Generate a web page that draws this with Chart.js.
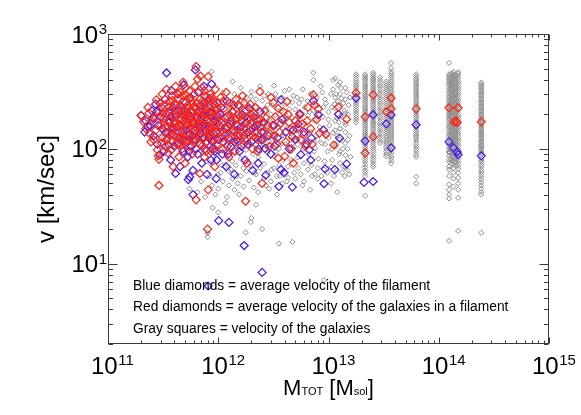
<!DOCTYPE html>
<html><head><meta charset="utf-8">
<script src="https://cdn.jsdelivr.net/npm/chart.js@4/dist/chart.umd.min.js"></script>
<style>html,body{margin:0;padding:0;background:#fff}#wrap{width:581px;height:415px;position:relative}</style>
</head><body><div id="wrap"><canvas id="c"></canvas></div>
<script>
// ---- axis definitions ----
const xMajorExponents = [11, 12, 13, 14, 15];
const yMajorExponents = [1, 2, 3];
const xRange = [1e11, 1e15];
const yRange = [2, 1000];
const yTitle = 'v [km/sec]';
const xTitleParts = [['M', 0], ['TOT', 1], [' [M', 0], ['sol', 1], [']', 0]];
const noteLines = [
  'Blue diamonds = average velocity of the filament',
  'Red diamonds = average velocity of the galaxies in a filament',
  'Gray squares = velocity of the galaxies'
];

// ---- data: [total mass (M_sol), velocity (km/s)] ----
const redDiamonds = [
[2.0e11,195],[2.2e11,150],[2.3e11,230],[2.4e11,135],[2.5e11,175],[2.6e11,120],[2.75e11,267],[2.8e11,98],[2.85e11,87],[2.9e11,48],[2.9e11,81],[2.9e11,210],[3.0e11,160],
[3.1e11,300],[3.1e11,125],[3.2e11,185],[3.2e11,240],[3.3e11,105],[3.3e11,155],[3.4e11,330],[3.4e11,200],[3.5e11,140],[3.5e11,92],[3.6e11,260],[3.6e11,175],[3.7e11,118],[3.7e11,215],[3.8e11,150],[3.8e11,290],[3.9e11,70],[3.9e11,190],[4.0e11,130],[4.0e11,245],
[4.1e11,350],[4.1e11,165],[4.2e11,110],[4.2e11,220],[4.3e11,275],[4.3e11,140],[4.4e11,185],[4.4e11,85],[4.5e11,310],[4.5e11,125],[4.6e11,235],[4.6e11,160],[4.7e11,200],[4.7e11,100],[4.8e11,380],[4.8e11,145],[4.9e11,260],[4.9e11,175],[5.0e11,120],[5.0e11,215],[5.0e11,75],
[5.1e11,290],[5.1e11,160],[5.2e11,135],[5.3e11,240],[5.3e11,195],[5.4e11,105],[5.5e11,320],[5.5e11,150],[5.6e11,180],[5.7e11,125],[5.7e11,260],[5.8e11,90],[5.9e11,210],[5.9e11,140],[6.0e11,300],[6.0e11,170],[6.1e11,115],[6.2e11,230],[6.2e11,155],[6.3e11,520],[6.3e11,36],
[6.5e11,404],[6.6e11,190],[6.7e11,130],[6.8e11,61],[6.8e11,270],[6.9e11,431],[6.9e11,160],[7.0e11,220],[7.1e11,105],[7.1e11,340],[7.2e11,145],[7.3e11,250],[7.4e11,180],[7.5e11,85],[7.5e11,125],[7.6e11,290],[7.7e11,200],[7.8e11,155],[7.9e11,115],[8.0e11,20],
[8.1e11,425],[8.1e11,44],[8.2e11,240],[8.3e11,170],[8.4e11,135],[8.5e11,300],[8.6e11,95],[8.7e11,210],[8.8e11,150],[8.9e11,120],[9.0e11,265],[9.2e11,185],[9.3e11,70],[9.4e11,330],[9.5e11,160],[9.7e11,230],[9.8e11,110],[1.0e12,195],
[1.03e12,140],[1.05e12,280],[1.08e12,170],[1.1e12,100],[1.12e12,225],[1.15e12,130],[1.18e12,310],[1.2e12,190],[1.22e12,155],[1.25e12,85],[1.28e12,250],[1.3e12,120],[1.33e12,175],[1.36e12,210],[1.4e12,140],[1.42e12,95],[1.45e12,270],[1.48e12,160],[1.5e12,115],[1.53e12,200],[1.56e12,235],[1.58e12,130],
[1.62e12,175],[1.66e12,290],[1.7e12,110],[1.74e12,150],[1.77e12,35],[1.78e12,215],[1.82e12,75],[1.86e12,185],[1.9e12,130],[1.95e12,245],[2.0e12,165],[2.05e12,100],[2.1e12,205],[2.15e12,140],[2.25e12,180],[2.3e12,120],[2.38e12,315],[2.4e12,155],[2.5e12,50],
[2.6e12,140],[2.7e12,185],[2.9e12,105],[3.15e12,253],[3.1e12,160],[3.2e12,130],[3.5e12,225],[3.5e12,83],[3.7e12,167],[4.0e12,86],[4.2e12,258],[4.3e12,200],[4.5e12,148],[4.7e12,127],[4.8e12,75],[5.0e12,175],
[5.5e12,198],[5.8e12,165],[6.0e12,133],[6.2e12,105],[6.5e12,230],[7.3e12,295],[7.8e12,180],[7.5e12,241],[8.1e12,223],[8.3e12,137],[9.5e12,134],[1.12e13,108],[1.23e13,231],[1.46e13,181],
[2.1e11,172],[2.35e11,205],[2.45e11,115],[2.65e11,185],[2.7e11,145],[2.95e11,250],[3.05e11,112],[3.15e11,205],[3.25e11,168],[3.45e11,122],[3.55e11,232],[3.65e11,145],[3.75e11,98],[3.85e11,265],[3.95e11,168],[4.05e11,200],[4.15e11,128],[4.25e11,305],[4.35e11,160],[4.45e11,235],[4.55e11,108],[4.65e11,180],[4.75e11,290],[4.85e11,130],[4.95e11,195],
[5.05e11,340],[5.15e11,225],[5.25e11,118],[5.35e11,170],[5.45e11,275],[5.6e11,210],[5.75e11,160],[5.85e11,245],[5.95e11,120],[6.05e11,190],[6.15e11,350],[6.25e11,135],[6.4e11,250],[6.55e11,165],[6.7e11,215],[6.85e11,110],[7.0e11,185],[7.15e11,260],[7.3e11,140],[7.45e11,320],[7.6e11,210],[7.75e11,95],[7.9e11,175],
[8.05e11,255],[8.25e11,145],[8.45e11,195],[8.65e11,125],[8.85e11,280],[9.05e11,160],[9.25e11,100],[9.45e11,215],[9.65e11,140],[9.85e11,250],[1.02e12,175],[1.07e12,125],[1.11e12,260],[1.16e12,150],[1.21e12,105],[1.26e12,200],[1.31e12,145],[1.38e12,240],[1.44e12,180],[1.5e12,130],[1.57e12,190],[1.64e12,140],[1.72e12,250],[1.8e12,118],[1.88e12,160],[1.97e12,200],
[2.07e12,130],[2.17e12,230],[2.28e12,95],[2.42e12,180],[2.55e12,120],[2.65e12,215],[2.8e12,160],[2.95e12,135],[3.0e12,280],[3.3e12,190],[3.4e12,110],[3.6e12,140],[3.9e12,210],[4.1e12,115],[4.4e12,170],[4.6e12,100],[5.2e12,150],[5.6e12,120],[6.4e12,175],[6.9e12,150],[7.1e12,110],
[1.78e13,307],[2.15e13,190],[2.15e13,92],[2.54e13,295],[2.54e13,127],[3.34e13,210],[3.7e13,277],[3.7e13,223],[6.24e13,223],[1.24e14,228],[1.5e14,228],[1.38e14,172],[1.43e14,175],[1.47e14,170],[2.43e14,172]
];

const blueDiamonds = [
[2.0e11,195],[2.2e11,175],[2.3e11,156],[2.4e11,158],[2.5e11,214],[2.6e11,130],[2.7e11,245],[2.75e11,211],[2.8e11,110],[2.95e11,89],[3.0e11,190],[3.1e11,150],[3.2e11,95],[3.3e11,270],[3.4e11,458],[3.4e11,120],[3.5e11,210],[3.6e11,170],[3.7e11,80],[3.75e11,321],[3.8e11,135],[3.9e11,230],[4.0e11,105],[4.1e11,61],[4.1e11,190],[4.2e11,155],[4.3e11,300],[4.4e11,125],[4.5e11,70],[4.6e11,215],[4.7e11,140],[4.8e11,95],[4.85e11,360],[4.9e11,175],[5.0e11,250],[5.1e11,115],[5.2e11,160],[5.3e11,85],[5.35e11,54],[5.4e11,200],[5.5e11,57],[5.5e11,135],[5.6e11,280],[5.7e11,105],[5.8e11,170],[5.9e11,40],[5.9e11,65],[6.0e11,230],[6.1e11,145],[6.2e11,487],[6.2e11,120],[6.4e11,190],[6.5e11,90],[6.6e11,310],[6.7e11,160],[6.8e11,110],[6.9e11,240],[7.0e11,135],[7.1e11,75],[7.2e11,195],[7.3e11,125],[7.4e11,350],[7.5e11,165],[7.6e11,100],[7.7e11,220],[7.8e11,145],[7.9e11,60],[8.0e11,180],[8.1e11,6.4],[8.2e11,125],[8.3e11,275],[8.5e11,150],[8.6e11,80],[8.7e11,367],[8.8e11,205],[8.9e11,115],[9.0e11,170],[9.2e11,245],[9.3e11,95],[9.5e11,140],[9.6e11,55],[9.8e11,190],
[1.0e12,120],[1.01e12,23.7],[1.03e12,160],[1.06e12,230],[1.09e12,90],[1.12e12,140],[1.15e12,185],[1.18e12,70],[1.2e12,260],[1.24e12,125],[1.25e12,22.9],[1.27e12,165],[1.3e12,105],[1.34e12,210],[1.37e12,145],[1.4e12,60],[1.44e12,180],[1.48e12,120],[1.52e12,240],[1.56e12,95],[1.6e12,155],[1.65e12,200],[1.7e12,130],[1.72e12,14.4],[1.75e12,80],[1.8e12,170],[1.86e12,110],[1.92e12,225],[1.98e12,145],[2.05e12,65],[2.1e12,190],[2.18e12,125],[2.25e12,160],[2.32e12,100],[2.4e12,210],[2.48e12,140],[2.5e12,8.4],
[2.65e12,101],[2.7e12,59],[3.25e12,106],[3.55e12,47],[3.7e12,66],[3.7e12,267],[3.95e12,62],[4.7e12,46.5],[4.8e12,146],[5.5e12,202],[5.6e12,89],[6.7e12,98],[6.9e12,80],[7.0e12,124],[7.3e12,263],[8.1e12,198],[9.0e12,146],[9.1e12,49.7],[9.3e12,67],[1.14e13,66],[1.23e13,200],[1.26e13,124],[1.46e13,74],
[2.15e11,140],[2.55e11,185],[2.85e11,160],[3.05e11,230],[3.35e11,140],[3.55e11,108],[3.7e11,190],[3.95e11,150],[4.15e11,240],[4.35e11,110],[4.55e11,180],[4.75e11,120],[4.95e11,210],[5.15e11,145],[5.45e11,95],[5.65e11,190],[5.85e11,130],[6.05e11,165],[6.3e11,100],[6.6e11,205],[6.9e11,135],[7.2e11,160],[7.5e11,250],[7.8e11,115],[8.1e11,150],[8.4e11,210],[8.8e11,100],[9.1e11,135],[9.4e11,175],[9.7e11,80],
[1.04e12,200],[1.1e12,115],[1.17e12,150],[1.23e12,90],[1.32e12,175],[1.4e12,115],[1.5e12,160],[1.62e12,105],[1.74e12,190],[1.85e12,140],[2.0e12,115],[2.12e12,155],[2.3e12,75],[2.45e12,120],[2.6e12,170],[2.85e12,130],[3.0e12,90],[3.2e12,160],[3.45e12,125],[3.8e12,180],[4.1e12,140],[4.4e12,100],[5.0e12,120],[5.3e12,165],[6.0e12,140],[6.3e12,110],
[1.78e13,277],[2.15e13,117],[2.1e13,51],[2.54e13,198],[2.54e13,52],[3.34e13,165],[3.7e13,198],[3.7e13,102],[6.24e13,162],[1.24e14,115],[1.36e14,102],[1.47e14,94],[1.5e14,89],[2.43e14,87]
];

// gray galaxies scattered at low/intermediate mass
const grayScattered = [
[8.0e11,17],[8.0e11,18.5],[8.9e11,30.7],[1.0e12,28],[1.17e12,33.7],[1.77e12,18.7],[1.97e12,23],[2.2e12,32.6],[2.5e12,20],[2.0e12,25],[3.55e12,15],[4.7e12,15.5],[9.1e12,7.2],
[7.3e12,460],[7.3e12,398],[1.1e13,398],[1.3e13,338],[8.7e11,470],[1.35e12,385],[2.0e12,315],
[5.5e11,45],[6.5e11,42],[7.0e11,52],[7.6e11,38],[8.3e11,58],[8.8e11,48],[9.4e11,40],[9.9e11,60],[6.0e11,120],[7.0e11,170],[8.0e11,240],[9.0e11,140],[7.5e11,300],[5.0e11,200],[4.0e11,160],[3.0e11,130],[9.5e11,90],[8.4e11,75],
[1.02e12,225],[1.04e12,150],[1.06e12,98],[1.08e12,72],[1.11e12,185],[1.13e12,120],[1.16e12,260],[1.19e12,88],[1.21e12,140],[1.24e12,64],[1.26e12,205],[1.29e12,110],[1.31e12,165],[1.34e12,78],[1.36e12,240],[1.39e12,128],[1.41e12,95],[1.43e12,190],[1.46e12,58],[1.49e12,150],[1.51e12,275],[1.54e12,105],[1.57e12,172],[1.6e12,82],[1.63e12,215],[1.66e12,125],[1.69e12,68],[1.72e12,160],[1.76e12,250],[1.79e12,98],[1.83e12,138],[1.87e12,195],[1.9e12,76],[1.94e12,112],[1.98e12,285],
[2.02e12,145],[2.06e12,90],[2.1e12,178],[2.14e12,62],[2.18e12,230],[2.22e12,118],[2.27e12,158],[2.31e12,84],[2.36e12,200],[2.4e12,132],[2.45e12,104],[2.5e12,262],[2.55e12,170],[2.6e12,74],[2.65e12,215],[2.7e12,122],[2.75e12,150],[2.8e12,92],[2.86e12,300],[2.92e12,182],[2.98e12,108],[3.04e12,66],[3.1e12,240],[3.16e12,140],[3.22e12,86],[3.28e12,196],[3.35e12,118],[3.42e12,270],[3.48e12,155],[3.55e12,100],[3.62e12,58],[3.7e12,212],[3.78e12,130],[3.86e12,80],[3.94e12,175],
[4.02e12,245],[4.1e12,110],[4.2e12,152],[4.3e12,70],[4.4e12,222],[4.5e12,95],[4.6e12,135],[4.7e12,185],[4.8e12,290],[4.9e12,62],[5.0e12,120],[5.1e12,160],[5.25e12,84],[5.4e12,250],[5.5e12,140],[5.6e12,105],[5.7e12,198],[5.85e12,330],[6.0e12,75],[6.15e12,165],[6.3e12,118],[6.45e12,260],[6.6e12,90],[6.75e12,210],[6.9e12,140],[7.1e12,58],[7.25e12,305],[7.4e12,178],[7.55e12,102],[7.7e12,130],[7.9e12,240],
[8.1e12,82],[8.3e12,155],[8.5e12,350],[8.7e12,112],[8.9e12,190],[9.1e12,66],[9.3e12,270],[9.5e12,128],[9.8e12,95],[1.0e13,210],[1.02e13,160],[1.05e13,300],[1.08e13,80],[1.1e13,138],[1.13e13,245],[1.16e13,105],[1.19e13,185],[1.22e13,360],[1.25e13,90],[1.28e13,150],[1.31e13,275],[1.34e13,118],[1.37e13,70],[1.4e13,215],[1.43e13,162],[1.46e13,310],[1.49e13,100],[1.52e13,240],[1.55e13,130],[1.58e13,85],
[1.3e13,195],[1.22e13,260],[1.1e13,330],[9.0e12,230],[7.0e12,255],[5.2e12,280],[4.0e12,320],[3.3e12,300],[2.9e12,45],[3.4e12,40],[4.2e12,52],[5.8e12,48],[6.8e12,44],[8.0e12,55],[1.05e13,50],[1.2e13,42],[1.4e13,58],[1.55e13,60],
[1.27e13,380],[1.27e13,300],[1.27e13,240],[1.27e13,190],[1.27e13,150],[1.27e13,120],[1.27e13,95],[1.27e13,75],[1.42e13,340],[1.42e13,270],[1.42e13,205],[1.42e13,170],[1.42e13,140],[1.42e13,112],[1.42e13,88],[1.42e13,68],[1.15e13,410],[1.15e13,280],[1.15e13,225],[1.15e13,175],[1.15e13,145],[1.15e13,110],
[1.0e12,45],[1.05e12,62],[1.1e12,52],[1.15e12,70],[1.2e12,38],[1.25e12,48],[1.3e12,66],[1.35e12,55],[1.4e12,44],[1.45e12,72],[1.5e12,50],[1.55e12,40],[1.6e12,58],[1.7e12,47],[1.8e12,64],[1.9e12,53],[2.0e12,70],[2.1e12,46],[2.2e12,60],[2.3e12,42],[2.4e12,68],[2.6e12,55],[2.7e12,48],[2.8e12,62],[3.0e12,52],[3.2e12,68],[3.4e12,58],[3.6e12,72],[3.8e12,50],[4.0e12,62],[4.3e12,56],[4.6e12,80],[5.0e12,55],[5.3e12,68],[5.6e12,60],[6.0e12,52],[6.5e12,66],[7.0e12,72],[7.5e12,60],[8.0e12,68],[8.6e12,58],[9.2e12,78],[9.8e12,62],[1.06e13,70],[1.12e13,58],[1.18e13,65],[1.33e13,62],[1.48e13,66],
[1.0e12,260],[1.1e12,310],[1.2e12,175],[1.3e12,230],[1.4e12,300],[1.5e12,200],[1.6e12,340],[1.7e12,190],[1.8e12,280],[1.9e12,230],[2.0e12,180],[2.2e12,270],[2.4e12,350],[2.6e12,290],[2.8e12,240],[3.0e12,200],[3.2e12,355],[3.5e12,230],[3.8e12,280],[4.1e12,195],[4.4e12,330],[4.7e12,255],[5.0e12,220],[5.3e12,190],[5.7e12,270],[6.1e12,230],[6.5e12,195],[6.9e12,300],[7.3e12,215],[7.8e12,280],[8.2e12,200],[8.8e12,310],[9.5e12,250],[1.0e13,180],[1.07e13,230],[1.17e13,300],[1.24e13,170],[1.36e13,250],[1.5e13,200],[1.57e13,280],
[2.2e12,100],[2.5e12,140],[2.7e12,105],[3.1e12,120],[3.3e12,95],[3.7e12,110],[4.0e12,130],[4.5e12,120],[4.9e12,105],[5.4e12,125],[5.9e12,100],[6.4e12,140],[6.9e12,115],[7.4e12,95],[8.0e12,120],[8.6e12,140],[9.3e12,110],[1.0e13,125],[1.08e13,100],[1.2e13,130],[1.35e13,100],[1.5e13,120]
];

// gray galaxies in the massive groups: one mass per column, many velocities
const grayColumnMass = [1.78e13, 2.15e13, 2.54e13, 2.94e13, 3.34e13, 3.7e13, 6.24e13, 1.24e14, 1.30e14, 1.36e14, 1.43e14, 1.5e14, 2.43e14];
const grayColumnVel = [
[445,428,410,392,376,360,347,333,318,305,292,280,268,256,245,235,224,214,204,195,186,178,170],
[445,430,414,400,385,372,358,346,333,321,310,298,288,277,267,258,248,239,231,222,214,207,199,192,185,178,172,165,159,153,148,142,137,132,127,122,118,113,109,105,101,97,93,89,85,81,77,73,69,65,62,58,39],
[460,444,428,412,398,383,370,356,344,331,320,308,297,286,276,266,257,247,238,230,221,213,206,198,191,184,177,171,165,159,153,148,142,137,132,127,123,118,114,109,105,101,97,93,89,85,81,77,73,70],
[420,398,380,360,345,328,312,298,283,270,257,245,233,222,211,201,191,182,173,165,157,150,143,136,129,123,117,112],
[385,370,355,341,328,315,303,291,280,269,258,248,238,229,220,211,203,195,187,180,173,166,159,153,147,141,136,130,125,120,115,110,105,100,95,90,86],
[560,505,470,452,435,418,402,386,371,357,343,330,317,305,293,282,271,260,250,240,231,222,213,205,197,189,182,175,168,161,155,149,143,137,132,127,122,117,112,107,102,97,92,87,83,79,75],
[445,428,411,396,380,366,352,338,325,312,300,289,278,267,256,246,237,228,219,210,202,194,187,179,172,166,159,153,147,141,135,130,125,120,114,109,104,99,94,89,85,57,50],
[560,445,430,414,398,383,369,355,341,328,316,304,292,281,270,260,250,240,231,222,213,205,197,190,183,176,169,162,156,150,144,138,133,128,123,118,113,108,103,99,95,93,87,81,77,70,66,58,49,44,40,37,15.8],
[455,435,410,392,372,355,338,322,306,291,277,264,251,239,227,216,206,196,186,177,168,160,152,145,138,131,125,119,113,107,101,96,90,85,80,74],
[470,448,426,405,386,368,350,334,318,303,289,275,262,250,238,227,216,206,196,187,178,170,162,154,147,140,133,127,121,115,110,105,100,95,90,86,82,78,73,68,62,55,47],
[440,420,398,378,360,343,326,311,296,282,268,256,243,232,221,210,200,191,182,173,165,157,150,143,136,129,123,117,111,106,100,95,91,86,82,76,71],
[467,452,432,411,392,374,356,339,323,308,293,279,266,253,241,230,219,208,198,189,180,171,163,155,148,141,134,128,122,116,110,105,100,95,91,87,83,79,75,71,67,62,56,50,44,37.5,19.3],
[378,366,354,343,332,321,311,301,292,283,274,265,257,249,241,233,226,219,212,205,199,193,187,181,175,170,165,160,155,150,145,141,137,133,129,125,121,117,114,110,107,104,101,98,95,92,88,84,80,77,73,70,66,63,60,57,54,51,48,45,42,40,18.6]
];

// ---- build datasets ----
const toPts = arr => arr.map(([m, v]) => ({x: m, y: v}));
const grayPts = toPts(grayScattered);
grayColumnMass.forEach((m, i) => grayColumnVel[i].forEach(v => grayPts.push({x: m, y: v})));

const FONT = '"Liberation Sans", Arial, Helvetica, sans-serif';

function drawPow(ctx, exp, left, midY, baseSize, expSize) {
  ctx.font = baseSize + 'px ' + FONT;
  const capH = 0.716 * baseSize;
  const base = midY + capH / 2;
  ctx.fillText('10', left, base);
  const w = ctx.measureText('10').width;
  ctx.font = expSize + 'px ' + FONT;
  ctx.fillText(String(exp), left + w + 0.5, base - capH + 0.716 * expSize - 2);
}
function powWidth(ctx, exp, baseSize, expSize) {
  ctx.font = baseSize + 'px ' + FONT;
  const w1 = ctx.measureText('10').width;
  ctx.font = expSize + 'px ' + FONT;
  return w1 + 0.5 + ctx.measureText(String(exp)).width;
}

const framePlugin = {
  id: 'idlFrame',
  afterDraw(chart) {
    const {ctx, chartArea: a, scales: {x, y}} = chart;
    ctx.save();
    ctx.strokeStyle = '#3a3a3a';
    ctx.lineWidth = 1;
    const L = a.left + 0.5, R = a.right - 0.5, T = a.top + 0.5, B = a.bottom - 0.5;
    ctx.strokeRect(L, T, R - L, B - T);
    ctx.beginPath();
    for (let e = xMajorExponents[0]; e <= xMajorExponents[xMajorExponents.length - 1]; e++) {
      for (let m = 1; m < 10; m++) {
        const val = m * Math.pow(10, e);
        if (val > xRange[1]) break;
        const px = Math.round(x.getPixelForValue(val)) + 0.5;
        const len = m === 1 ? 6 : 3;
        ctx.moveTo(px, B); ctx.lineTo(px, B - len);
        ctx.moveTo(px, T); ctx.lineTo(px, T + len);
      }
    }
    for (let e = 0; e <= yMajorExponents[yMajorExponents.length - 1]; e++) {
      for (let m = 1; m < 10; m++) {
        const val = m * Math.pow(10, e);
        if (val < yRange[0] || val > yRange[1]) continue;
        const py = Math.round(y.getPixelForValue(val)) + 0.5;
        const len = m === 1 ? 9 : 4.5;
        ctx.moveTo(L, py); ctx.lineTo(L + len, py);
        ctx.moveTo(R, py); ctx.lineTo(R - len, py);
      }
    }
    ctx.stroke();

    ctx.fillStyle = '#000';
    ctx.textBaseline = 'alphabetic';
    ctx.textAlign = 'left';
    yMajorExponents.forEach(e => {
      const py = y.getPixelForValue(Math.pow(10, e));
      const w = powWidth(ctx, e, 24, 15);
      drawPow(ctx, e, a.left - 1 - w, py, 24, 15);
    });
    xMajorExponents.forEach(e => {
      const px = x.getPixelForValue(Math.pow(10, e));
      drawPow(ctx, e, px - 17, 365, 24, 15);
    });
    ctx.save();
    ctx.translate(54, (a.top + a.bottom) / 2);
    ctx.rotate(-Math.PI / 2);
    ctx.font = '24px ' + FONT;
    ctx.textAlign = 'center';
    ctx.fillText(yTitle, 0, 0);
    ctx.restore();
    const sizes = [22, 11];
    let total = 0;
    xTitleParts.forEach(([t, s]) => { ctx.font = sizes[s] + 'px ' + FONT; total += ctx.measureText(t).width; });
    let cx = (a.left + a.right) / 2 - total / 2;
    xTitleParts.forEach(([t, s]) => {
      ctx.font = sizes[s] + 'px ' + FONT;
      ctx.fillText(t, cx, 395);
      cx += ctx.measureText(t).width;
    });
    ctx.font = '13.8px ' + FONT;
    noteLines.forEach((t, i) => ctx.fillText(t, 133, 290 + i * 21.3));
    ctx.restore();
  }
};

new Chart(document.getElementById('c'), {
  type: 'scatter',
  data: {
    datasets: [
      {label: 'Red diamonds', data: toPts(redDiamonds), pointStyle: 'rectRot', radius: 4,
       borderColor: 'rgb(255,35,15)', backgroundColor: 'rgba(0,0,0,0)', borderWidth: 1.2, order: 0},
      {label: 'Blue diamonds', data: toPts(blueDiamonds), pointStyle: 'rectRot', radius: 4,
       borderColor: 'rgb(70,20,240)', backgroundColor: 'rgba(0,0,0,0)', borderWidth: 1.2, order: 1},
      {label: 'Gray squares', data: grayPts, pointStyle: 'rectRot', radius: 2.6,
       borderColor: 'rgb(140,140,140)', backgroundColor: 'rgba(0,0,0,0)', borderWidth: 1, order: 2}
    ]
  },
  options: {
    animation: false, responsive: true, maintainAspectRatio: false, devicePixelRatio: 1,
    events: [],
    layout: {padding: {left: 108, top: 34, right: 32, bottom: 71}},
    plugins: {legend: {display: false}, tooltip: {enabled: false}},
    scales: {
      x: {type: 'logarithmic', min: xRange[0], max: xRange[1], display: false},
      y: {type: 'logarithmic', min: yRange[0], max: yRange[1], display: false}
    }
  },
  plugins: [framePlugin]
});
</script>
</body></html>
